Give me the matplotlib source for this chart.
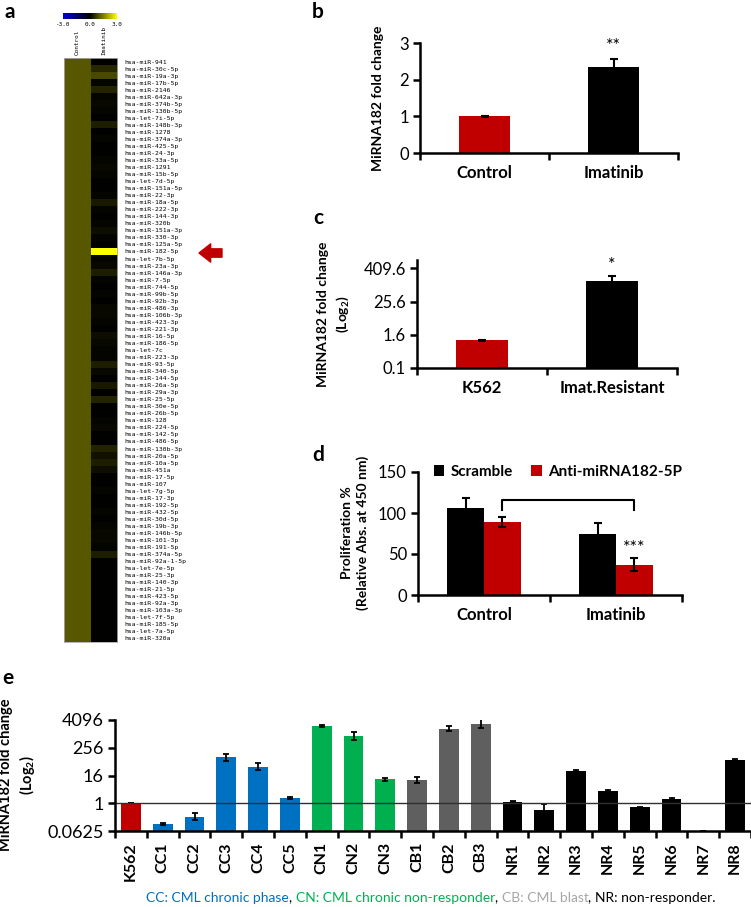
import matplotlib
matplotlib.use('Agg')
import matplotlib.pyplot as plt
import numpy as np
from matplotlib.colors import LinearSegmentedColormap
from matplotlib.offsetbox import TextArea, HPacker, AnchoredOffsetbox

plt.rcParams['font.family'] = ['Lato', 'DejaVu Sans']
plt.rcParams['mathtext.fontset'] = 'custom'
plt.rcParams['mathtext.rm'] = 'Lato'
plt.rcParams['mathtext.bf'] = 'Lato:bold'

# ---- panel a: heatmap ----
mirnas = ['hsa-miR-941', 'hsa-miR-30c-5p', 'hsa-miR-19a-3p', 'hsa-miR-17b-5p', 'hsa-miR-2146',
          'hsa-miR-642a-3p', 'hsa-miR-374b-5p', 'hsa-miR-130b-5p', 'hsa-let-7i-5p', 'hsa-miR-148b-3p',
          'hsa-miR-1278', 'hsa-miR-374a-3p', 'hsa-miR-425-5p', 'hsa-miR-24-3p', 'hsa-miR-33a-5p',
          'hsa-miR-1291', 'hsa-miR-15b-5p', 'hsa-let-7d-5p', 'hsa-miR-151a-5p', 'hsa-miR-22-3p',
          'hsa-miR-18a-5p', 'hsa-miR-222-3p', 'hsa-miR-144-3p', 'hsa-miR-320b', 'hsa-miR-151a-3p',
          'hsa-miR-330-3p', 'hsa-miR-125a-5p', 'hsa-miR-182-5p', 'hsa-let-7b-5p', 'hsa-miR-23a-3p',
          'hsa-miR-146a-3p', 'hsa-miR-7-5p', 'hsa-miR-744-5p', 'hsa-miR-99b-5p', 'hsa-miR-92b-3p',
          'hsa-miR-486-3p', 'hsa-miR-106b-3p', 'hsa-miR-423-3p', 'hsa-miR-221-3p', 'hsa-miR-16-5p',
          'hsa-miR-186-5p', 'hsa-let-7c', 'hsa-miR-223-3p', 'hsa-miR-93-5p', 'hsa-miR-340-5p',
          'hsa-miR-144-5p', 'hsa-miR-26a-5p', 'hsa-miR-29a-3p', 'hsa-miR-25-5p', 'hsa-miR-30e-5p',
          'hsa-miR-26b-5p', 'hsa-miR-128', 'hsa-miR-224-5p', 'hsa-miR-142-5p', 'hsa-miR-486-5p',
          'hsa-miR-130b-3p', 'hsa-miR-20a-5p', 'hsa-miR-10a-5p', 'hsa-miR-451a', 'hsa-miR-17-5p',
          'hsa-miR-107', 'hsa-let-7g-5p', 'hsa-miR-17-3p', 'hsa-miR-192-5p', 'hsa-miR-432-5p',
          'hsa-miR-30d-5p', 'hsa-miR-19b-3p', 'hsa-miR-146b-5p', 'hsa-miR-101-3p', 'hsa-miR-191-5p',
          'hsa-miR-374a-5p', 'hsa-miR-92a-1-5p', 'hsa-let-7e-5p', 'hsa-miR-25-3p', 'hsa-miR-140-3p',
          'hsa-miR-21-5p', 'hsa-miR-423-5p', 'hsa-miR-92a-3p', 'hsa-miR-103a-3p', 'hsa-let-7f-5p',
          'hsa-miR-185-5p', 'hsa-let-7a-5p', 'hsa-miR-320a']
heat_columns = ['Control', 'Imatinib']
control_expr = [1.02] * len(mirnas)
imatinib_expr = [0.0, 0.45, 0.85, 0.05, 0.4, 0.05, 0.1, 0.05, 0.0, 0.35,
                 0.0, 0.05, 0.0, 0.0, 0.05, 0.1, 0.05, 0.0, 0.0, 0.05,
                 0.3, 0.05, 0.0, 0.05, 0.15, 0.05, 0.0, 3.0, 0.05, 0.1,
                 0.35, 0.05, 0.0, 0.05, 0.0, 0.1, 0.1, 0.05, 0.0, 0.15,
                 0.1, 0.05, 0.05, 0.35, 0.1, 0.0, 0.3, 0.0, 0.4, 0.0,
                 0.0, 0.05, 0.1, 0.0, 0.0, 0.4, 0.2, 0.35, 0.15, 0.0,
                 0.0, 0.05, 0.0, 0.0, 0.05, 0.0, 0.05, 0.1, 0.1, 0.05,
                 0.35, 0.0, 0.0, 0.0, 0.0, 0.0, 0.0, 0.0, 0.0, 0.0,
                 0.0, 0.0, 0.0]
highlight = 'hsa-miR-182-5p'

# ---- panel b ----
b_groups = ['Control', 'Imatinib']
b_values = [1.0, 2.35]
b_err = [0.01, 0.22]

# ---- panel c ----
c_groups = ['K562', 'Imat.Resistant']
c_values = [1.0, 140.0]
c_err = [0.05, 80.0]

# ---- panel d ----
d_groups = ['Control', 'Imatinib']
d_scramble = [106, 75]
d_scramble_err = [12, 13]
d_anti = [89, 37]
d_anti_err = [6, 8]

# ---- panel e ----
e_samples = ['K562', 'CC1', 'CC2', 'CC3', 'CC4', 'CC5', 'CN1', 'CN2', 'CN3', 'CB1', 'CB2', 'CB3',
             'NR1', 'NR2', 'NR3', 'NR4', 'NR5', 'NR6', 'NR7', 'NR8']
e_values = [1.0, 0.125, 0.26, 97, 39, 1.66, 2240, 810, 10.8, 10, 1720, 2860,
            1.18, 0.5, 25, 3.4, 0.66, 1.5, 0.0625, 74]
e_err_log2 = [0.0, 0.2, 0.5, 0.45, 0.45, 0.1, 0.15, 0.6, 0.2, 0.4, 0.35, 0.6,
              0.1, 0.9, 0.15, 0.1, 0.1, 0.1, 0.0, 0.15]
group_colors = {'K562': '#c00000', 'CC': '#0070c0', 'CN': '#00b050', 'CB': '#5f5f5f', 'NR': '#000000'}

RED = '#c00000'
W, H = 751, 907
fig = plt.figure(figsize=(W / 100, H / 100), dpi=100)


def box(x0, y0, x1, y1):
    return [x0 / W, 1 - y1 / H, (x1 - x0) / W, (y1 - y0) / H]


def excel_style(ax, ncat, fs=12):
    for s in ['top', 'right']:
        ax.spines[s].set_visible(False)
    for s in ['left', 'bottom']:
        ax.spines[s].set_linewidth(1.8)
    ax.set_xlim(-0.5, ncat - 0.5)
    ax.set_xticks(np.arange(ncat))
    ax.minorticks_off()
    ax.set_xticks(np.arange(ncat + 1) - 0.5, minor=True)
    ax.tick_params(axis='x', which='major', length=0, labelsize=fs, pad=9)
    ax.tick_params(axis='x', which='minor', length=5, width=1.8, direction='out')
    ax.tick_params(axis='y', which='major', length=5, width=1.8, direction='out', labelsize=fs, pad=3)
    ax.tick_params(axis='y', which='minor', length=0)


# heatmap
ax_h = fig.add_axes(box(64, 58, 117, 642))
cmap = LinearSegmentedColormap.from_list('byk', ['#0000dd', '#000000', '#ffff00'])
heat = np.column_stack([control_expr, imatinib_expr])
im = ax_h.imshow(heat, cmap=cmap, vmin=-3, vmax=3, aspect='auto', interpolation='nearest')
ax_h.set_yticks(np.arange(len(mirnas)))
ax_h.set_yticklabels(mirnas, fontsize=4.6, family='DejaVu Sans Mono')
ax_h.yaxis.tick_right()
ax_h.tick_params(axis='y', length=0, pad=5)
ax_h.set_xticks([])
for s in ax_h.spines.values():
    s.set_color('#aaaaaa')
    s.set_linewidth(0.6)
for i, name in enumerate(heat_columns):
    ax_h.text(i, -0.9, name, rotation=90, ha='center', va='bottom', fontsize=4.3,
              family='DejaVu Sans Mono')

ax_cb = fig.add_axes(box(63, 13, 117, 19))
cb = fig.colorbar(im, cax=ax_cb, orientation='horizontal', ticks=[-3, 0, 3])
cb.ax.set_xticklabels(['-3.0', '0.0', '3.0'], fontsize=4.3, family='DejaVu Sans Mono')
cb.ax.tick_params(length=0, pad=2)
cb.outline.set_visible(False)

ax_h.annotate('', xy=(199, H - 253), xytext=(222, H - 253),
              xycoords='figure pixels', textcoords='figure pixels',
              arrowprops=dict(arrowstyle='simple,head_length=0.7,head_width=1.1,tail_width=0.5',
                              color=RED, mutation_scale=12, shrinkA=0, shrinkB=0))

# panel b
ax_b = fig.add_axes(box(420, 43, 678, 153))
xb = np.arange(len(b_groups))
ax_b.bar(xb, b_values, width=0.4, color=[RED, 'black'], yerr=b_err, capsize=3,
         error_kw=dict(elinewidth=1.5, capthick=1.5))
ax_b.set_ylim(0, 3)
ax_b.set_yticks([0, 1, 2, 3])
excel_style(ax_b, len(b_groups))
ax_b.set_xticklabels(b_groups, fontweight='bold')
ax_b.text(xb[1], b_values[1] + b_err[1] + 0.12, '**', ha='center', va='bottom', fontsize=13)
fig.text(378 / W, 1 - 98 / H, 'MiRNA182 fold change', rotation=90, ha='center', va='center',
         fontsize=10, fontweight='bold')

# panel c
ax_c = fig.add_axes(box(417, 260, 677, 368))
xc = np.arange(len(c_groups))
ax_c.set_yscale('log')
c_low = 0.1
ax_c.bar(xc, np.array(c_values) - c_low, bottom=c_low, width=0.4, color=[RED, 'black'],
         yerr=c_err, capsize=3, error_kw=dict(elinewidth=1.5, capthick=1.5))
ax_c.set_ylim(c_low, 819.2)
ax_c.set_yticks([0.1, 1.6, 25.6, 409.6])
ax_c.set_yticklabels(['0.1', '1.6', '25.6', '409.6'])
excel_style(ax_c, len(c_groups))
ax_c.set_xticklabels(c_groups, fontweight='bold')
ax_c.text(xc[1], (c_values[1] + c_err[1]) * 1.3, '*', ha='center', va='bottom', fontsize=13)
fig.text(334 / W, 1 - 314 / H, 'MiRNA182 fold change\n(Log$_\\mathbf{2}$)', rotation=90,
         ha='center', va='center', fontsize=10, fontweight='bold', linespacing=1.4)

# panel d
ax_d = fig.add_axes(box(418, 472, 682, 595))
xd = np.arange(len(d_groups))
bw = 0.28
ax_d.bar(xd - bw / 2, d_scramble, width=bw, color='black', yerr=d_scramble_err, capsize=3,
         error_kw=dict(elinewidth=1.5, capthick=1.5), label='Scramble')
ax_d.bar(xd + bw / 2, d_anti, width=bw, color=RED, yerr=d_anti_err, capsize=3,
         error_kw=dict(elinewidth=1.5, capthick=1.5), label='Anti-miRNA182-5P')
ax_d.set_ylim(0, 150)
ax_d.set_yticks([0, 50, 100, 150])
excel_style(ax_d, len(d_groups))
ax_d.set_xticklabels(d_groups, fontweight='bold')
x0, x1 = xd[0] + bw / 2, xd[1] + bw / 2
ax_d.plot([x0, x0, x1, x1], [104, 116, 116, 104], color='black', lw=1.5)
ax_d.text(x1, d_anti[1] + d_anti_err[1] + 3, '***', ha='center', va='bottom', fontsize=13)
ax_d.legend(loc='center left', bbox_to_anchor=(0.03, 1.0), ncol=2, frameon=False,
            handlelength=0.7, handleheight=0.7, handletextpad=0.4, columnspacing=1.2,
            borderpad=0, prop=dict(weight='bold', size=11))
fig.text(355 / W, 1 - 533 / H, 'Proliferation %\n(Relative Abs. at 450 nm)', rotation=90,
         ha='center', va='center', fontsize=10, fontweight='bold', linespacing=1.4)

# panel e
ax_e = fig.add_axes(box(115, 720, 751, 831))
xe = np.arange(len(e_samples))
e_low = 0.0625
e_vals = np.array(e_values)
e_errs = np.array(e_err_log2)
yerr = [e_vals - e_vals / 2 ** e_errs, e_vals * 2 ** e_errs - e_vals]
e_cols = [group_colors.get(s, group_colors.get(s[:2])) for s in e_samples]
ax_e.set_yscale('log', base=2)
ax_e.bar(xe, e_vals - e_low, bottom=e_low, width=0.62, color=e_cols, yerr=yerr, capsize=2.5,
         error_kw=dict(elinewidth=1.3, capthick=1.3))
ax_e.axhline(1, color='#303030', lw=1)
ax_e.set_ylim(e_low, 4096)
ax_e.set_yticks([0.0625, 1, 16, 256, 4096])
ax_e.set_yticklabels(['0.0625', '1', '16', '256', '4096'])
excel_style(ax_e, len(e_samples), fs=13)
ax_e.set_xticklabels(e_samples, rotation=90, fontweight='bold')
ax_e.tick_params(axis='x', which='major', labelsize=11.5, pad=8)
fig.text(18 / W, 1 - 775 / H, 'MiRNA182 fold change\n(Log$_\\mathbf{2}$)', rotation=90,
         ha='center', va='center', fontsize=10.5, fontweight='bold', linespacing=1.3)

caption = [('CC: CML chronic phase', group_colors['CC']), (', ', 'black'),
           ('CN: CML chronic non-responder', group_colors['CN']), (', ', 'black'),
           ('CB: CML blast', '#a6a6a6'), (', ', 'black'), ('NR: non-responder.', 'black')]
parts = [TextArea(t, textprops=dict(color=c, fontsize=10)) for t, c in caption]
packed = HPacker(children=parts, align='baseline', pad=0, sep=0)
anchored = AnchoredOffsetbox(loc='center', child=packed, frameon=False, pad=0, borderpad=0,
                             bbox_to_anchor=(431 / W, 1 - 898 / H), bbox_transform=fig.transFigure)
fig.add_artist(anchored)

# panel letters
for letter, (px, py) in {'a': (10, 12), 'b': (318, 12), 'c': (318, 218),
                         'd': (318, 455), 'e': (8, 678)}.items():
    fig.text(px / W, 1 - py / H, letter, fontsize=15, fontweight='bold', ha='center', va='center')

fig.savefig('out.png', dpi=100)
